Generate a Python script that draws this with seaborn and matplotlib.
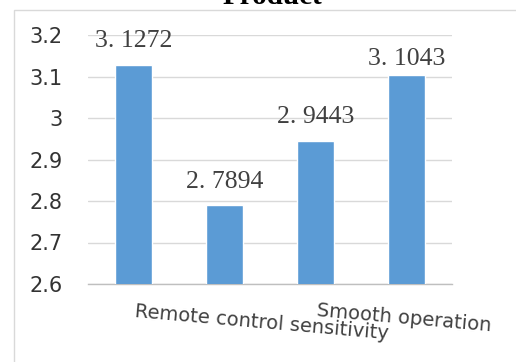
import matplotlib
matplotlib.use("Agg")
import matplotlib.pyplot as plt
import matplotlib.patches as mpatches
import seaborn as sns
import pandas as pd

# Survey scores for the product dimensions
item_labels = ["", "Remote control sensitivity", "", "Smooth operation"]
scores = [3.1272, 2.7894, 2.9443, 3.1043]
y_ticks = [2.6, 2.7, 2.8, 2.9, 3.0, 3.1, 3.2]
y_tick_labels = ["2.6", "2.7", "2.8", "2.9", "3", "3.1", "3.2"]
title = "Product"

# vertical gap (pt) between each bar top and its value label
label_gaps = [17.3, 17.0, 17.6, 11.2]

sns.set_theme(style="white")
plt.rcParams["font.family"] = ["DejaVu Sans"]

df = pd.DataFrame({"item": list(range(len(scores))), "score": scores})

fig = plt.figure(figsize=(5.16, 3.62), dpi=100)
ax = fig.add_axes([88 / 516, 1 - 284 / 362, (452 - 88) / 516, (284 - 35) / 362])

# chart frame
fig.patches.append(mpatches.Rectangle((14 / 516, -0.1), 1.2, 1 - 10 / 362 + 0.1,
                                      transform=fig.transFigure, fill=False,
                                      edgecolor="#d9d9d9", linewidth=1.0, zorder=0))

sns.barplot(data=df, x="item", y="score", color="#5b9bd5", width=0.4,
            saturation=1, ax=ax, zorder=3)

ax.set_xlim(-0.5, 3.5)
ax.set_ylim(2.6, 3.2)
ax.set_yticks(y_ticks)
ax.set_yticklabels(y_tick_labels, fontsize=15, color="#333333")
ax.yaxis.grid(True, color="#d9d9d9", linewidth=1.0, zorder=0)
ax.set_axisbelow(True)
ax.tick_params(axis="y", length=0, pad=18.5)

for side in ["left", "right", "top"]:
    ax.spines[side].set_visible(False)
ax.spines["bottom"].set_color("#bfbfbf")
ax.spines["bottom"].set_linewidth(1.0)

# category boundary ticks, labels drawn separately
ax.set_xticks([-0.5, 0.5, 1.5, 2.5, 3.5])
ax.set_xticklabels([])
ax.tick_params(axis="x", length=4.5, width=1.0, color="#bfbfbf", direction="out")
ax.set_xlabel("")
ax.set_ylabel("")

label_pos = {1: (1.412, -0.157), 3: (2.97, -0.137)}
for i, name in enumerate(item_labels):
    if not name:
        continue
    x, y = label_pos[i]
    ax.text(x, y, name, transform=ax.get_xaxis_transform(), rotation=-5,
            rotation_mode="anchor", ha="center", va="center", fontsize=14,
            color="#404040")

# value labels above bars
for i, (v, gap) in enumerate(zip(scores, label_gaps)):
    ax.annotate(f"{v:.4f}".replace(".", ". "), xy=(i, v), xytext=(0, gap),
                textcoords="offset points", ha="center", va="center",
                fontsize=18.5, family="Liberation Serif", color="#404040",
                zorder=5)

fig.text(272 / 516, 1 - 4 / 362, title, ha="center", va="baseline",
         fontsize=21, fontweight="bold", family="Liberation Serif", color="black")

fig.savefig("out.png", dpi=100)
